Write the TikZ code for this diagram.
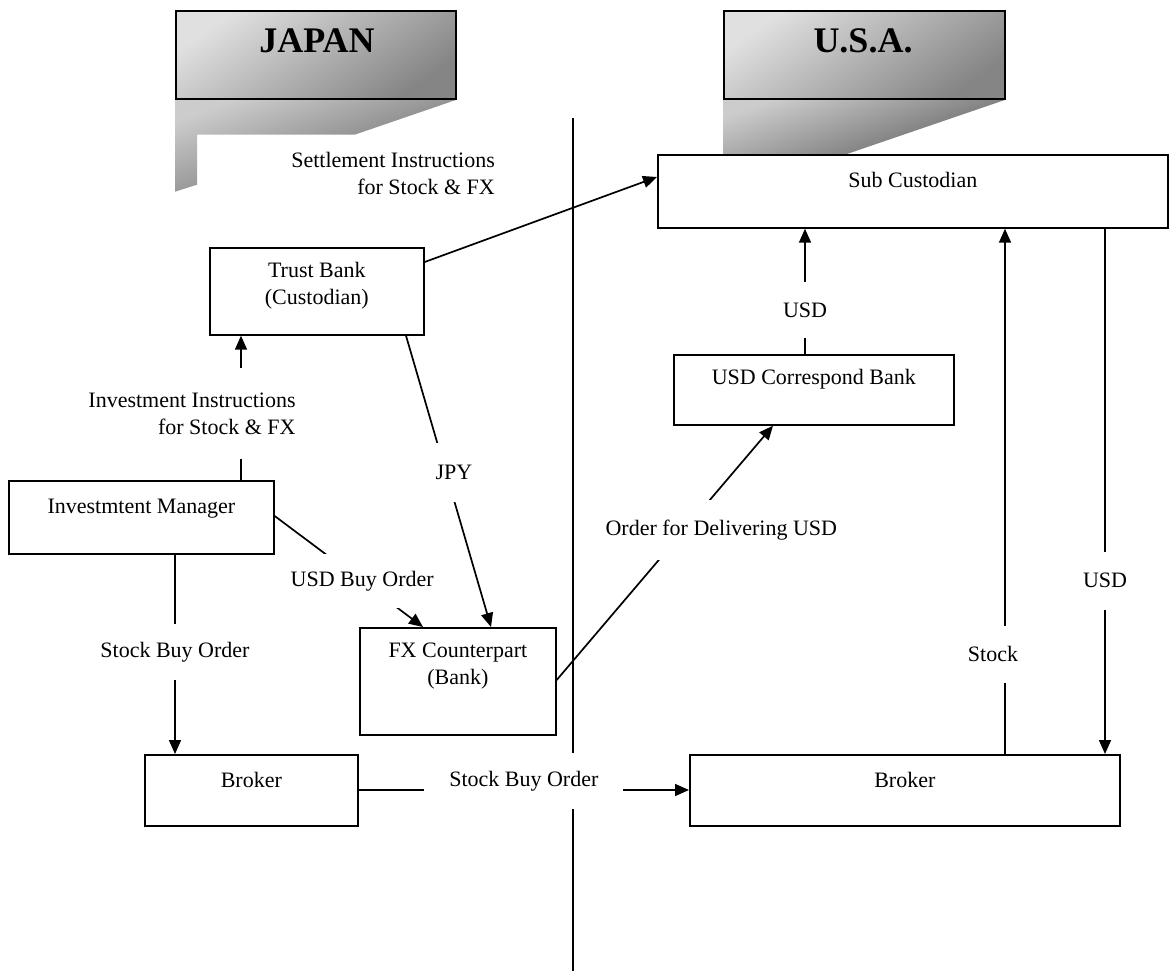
\documentclass[tikz,border=0pt]{standalone}
\usepackage{fontspec}
\setmainfont{Liberation Serif}
\usetikzlibrary{arrows.meta,calc}

\begin{document}
\begin{tikzpicture}[x=1pt,y=-1pt,
  every node/.style={font=\fontsize{22}{27}\selectfont},
  box/.style={draw, line width=1.7pt, inner sep=0pt, anchor=north west, fill=white},
  txt/.style={inner sep=0pt, align=center},
  conn/.style={line width=1.7pt},
  arr/.style={line width=1.7pt, -{Triangle[length=14pt,width=12pt]}},
  lbl/.style={fill=white, inner xsep=2pt, inner ysep=0pt, minimum height=56pt, align=center},
  banner/.style={draw, line width=1.7pt, inner sep=0pt, anchor=north west,
    top color=black!12, bottom color=black!48, shading angle=35},
  flag/.style={font=\fontsize{36}{40}\selectfont\bfseries, inner sep=0pt},
  shadowfill/.style={top color=black!20, bottom color=black!62, shading angle=20}
]
\useasboundingbox (0,0) rectangle (1169,971);

% country banners with their cast shadows
\node[banner, minimum width=280pt, minimum height=88pt] (jp) at (175,10) {};
\node[banner, minimum width=281pt, minimum height=88pt] (us) at (723,10) {};
\shade[shadowfill] (jp.south west) -- (jp.south east) -- ($(jp.south east)+(-102,35)$)
  -- ($(jp.south west)+(22,35)$) -- ($(jp.south west)+(22,85)$) -- ($(jp.south west)+(0,92)$) -- cycle;
\shade[shadowfill] (us.south west) -- (us.south east) -- ($(us.south west)+(119,56)$)
  -- ($(us.south west)+(0,56)$) -- cycle;
\node[banner, minimum width=280pt, minimum height=88pt] (jp) at (175,10) {};
\node[banner, minimum width=281pt, minimum height=88pt] (us) at (723,10) {};
\node[flag] (jp-t) at (317,41) {JAPAN};
\node[flag] (us-t) at (863,41) {U.S.A.};

% border between the two countries
\coordinate (div-top) at (573,118);
\coordinate (div-bot) at (573,971);
\draw[conn] (div-top) -- (div-bot);

% institutions
\node[box, minimum width=510pt, minimum height=73pt] (sub) at (657,154) {};
\node[box, minimum width=214pt, minimum height=87pt] (tb) at (209,247) {};
\node[box, minimum width=265pt, minimum height=73pt] (im) at (8,480) {};
\node[box, minimum width=280pt, minimum height=70pt] (cb) at (673,354) {};
\node[box, minimum width=196pt, minimum height=107pt] (fx) at (359,627) {};
\node[box, minimum width=213pt, minimum height=71pt] (brL) at (144,754) {};
\node[box, minimum width=430pt, minimum height=71pt] (brR) at (689,754) {};

\node[txt] (sub-t) at ([yshift=-26pt]sub.north) {Sub Custodian};
\node[txt] (tb-t) at ([yshift=-39pt]tb.north) {Trust Bank\\(Custodian)};
\node[txt] (im-t) at ([yshift=-29pt]im.north) {Investmtent Manager};
\node[txt] (cb-t) at ([yshift=-25pt]cb.north) {USD Correspond Bank};
\node[txt] (fx-t) at ([yshift=-39pt]fx.north) {FX Counterpart\\(Bank)};
\node[txt] (brL-t) at ([yshift=-26pt]brL.north) {Broker};
\node[txt] (brR-t) at ([yshift=-26pt]brR.north) {Broker};

% flows
\draw[arr] ([yshift=-15pt]tb.north east) -- ([yshift=-23pt]sub.north west);
\node[txt, align=right, anchor=east] (settle) at (495,173) {Settlement Instructions\\for Stock \& FX};

\draw[arr] ([xshift=233pt]im.north west) --
  node[lbl, pos=0.46, xshift=-49pt, align=right, minimum height=91pt] (l-inv) {Investment Instructions\\for Stock \& FX}
  ([xshift=32pt]tb.south west);

\draw[arr] ([xshift=197pt]tb.south west) --
  node[lbl, pos=0.47, xshift=8pt, minimum height=59pt] (l-jpy) {JPY}
  ([xshift=132pt]fx.north west);

\draw[arr] ([yshift=-36pt]im.north east) --
  node[lbl, pos=0.59, minimum height=54pt] (l-usdbuy) {USD Buy Order}
  ([xshift=64pt]fx.north west);

\draw[arr] ([xshift=167pt]im.south west) --
  node[lbl, pos=0.49] (l-sboL) {Stock Buy Order}
  ([xshift=31pt]brL.north west);

\draw[arr] ([yshift=-36pt]brL.north east) --
  node[lbl, pos=0.5, yshift=9pt, minimum width=199pt] (l-sbo) {Stock Buy Order}
  ([yshift=-36pt]brR.north west);

\draw[arr] ([yshift=-53pt]fx.north east) --
  node[lbl, pos=0.59, xshift=37pt, minimum height=60pt] (l-deliv) {Order for Delivering USD}
  ([xshift=100pt]cb.south west);

\draw[arr] ([xshift=132pt]cb.north west) --
  node[lbl, pos=0.35] (l-usd1) {USD}
  ([xshift=148pt]sub.south west);

\draw[arr] ([xshift=316pt]brR.north west) --
  node[lbl, pos=0.19, xshift=-12pt, minimum height=57pt] (l-stock) {Stock}
  ([xshift=348pt]sub.south west);

\draw[arr] ([xshift=448pt]sub.south west) --
  node[lbl, pos=0.67, minimum height=58pt] (l-usd2) {USD}
  ([xshift=416pt]brR.north west);
\end{tikzpicture}
\end{document}
